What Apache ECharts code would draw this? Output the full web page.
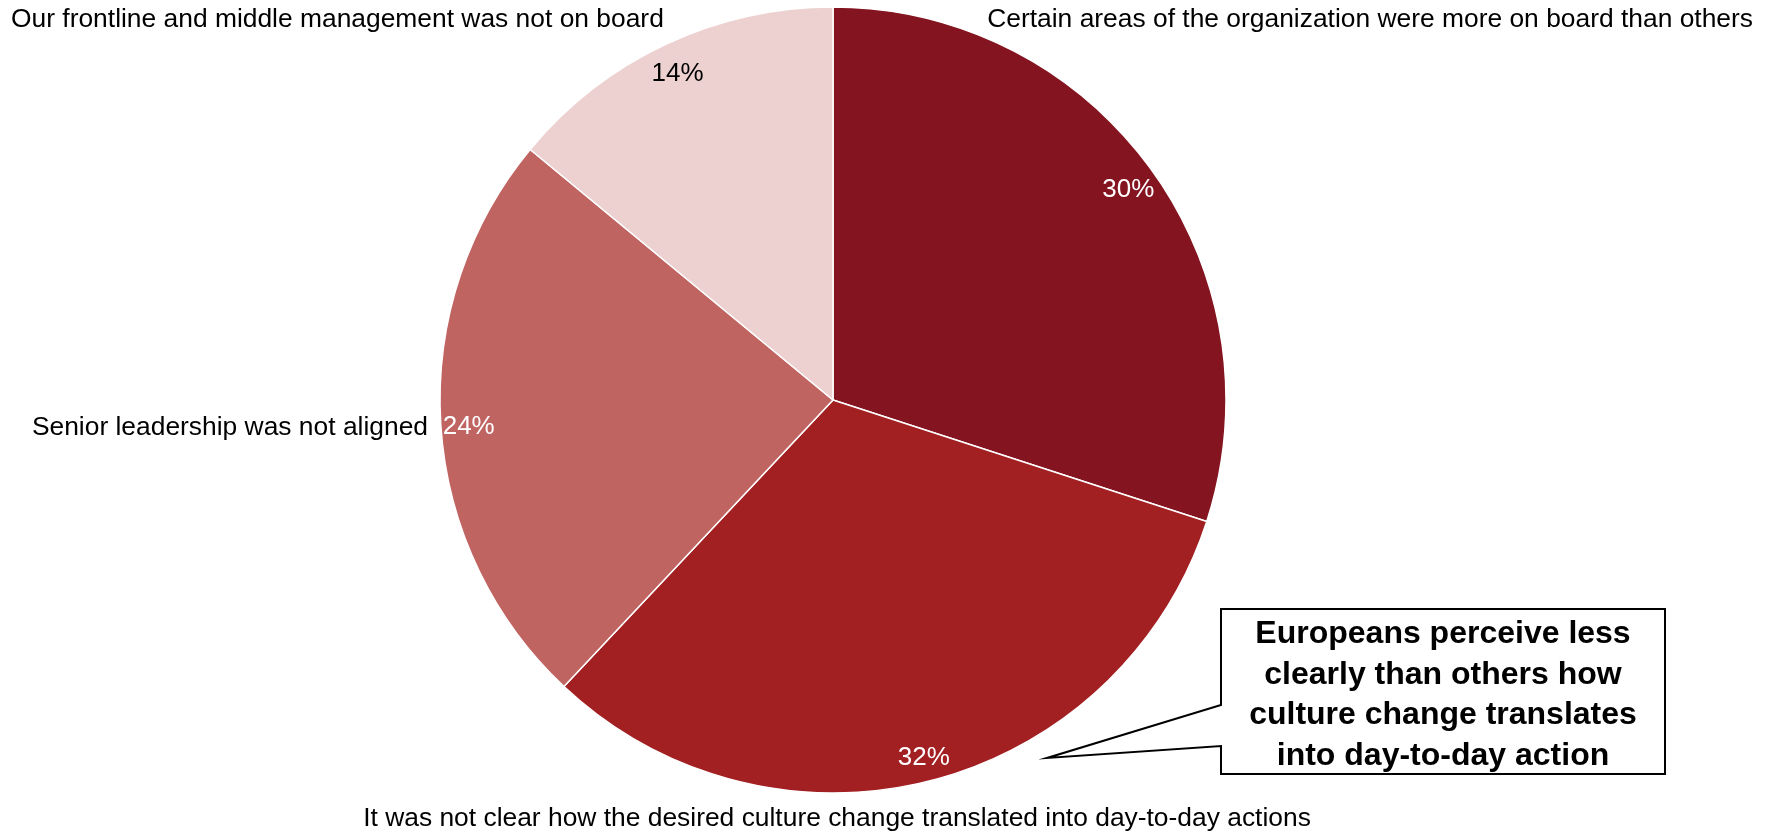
<!DOCTYPE html>
<html>
<head>
<meta charset="utf-8">
<script src="https://cdn.jsdelivr.net/npm/echarts@6/dist/echarts.min.js"></script>
<style>
  html, body { margin: 0; padding: 0; background: #ffffff; }
  #chart { width: 1777px; height: 833px; }
</style>
</head>
<body>
<div id="chart"></div>
<script>
// Reasons a culture change stalled (share of respondents), clockwise from 12 o'clock
const categories = [
  'Certain areas of the organization were more on board than others',
  'It was not clear how the desired culture change translated into day-to-day actions',
  'Senior leadership was not aligned',
  'Our frontline and middle management was not on board'
];
const shares = [30, 32, 24, 14];
const sliceColors = ['#84141f', '#a21f22', '#c06462', '#edd1d1'];
const percentColors = ['#ffffff', '#ffffff', '#ffffff', '#000000'];
const calloutLines = [
  'Europeans perceive less',
  'clearly than others how',
  'culture change translates',
  'into day-to-day action'
];

const FONT = '"Liberation Sans", Arial, sans-serif';
const CX = 833, CY = 400, R = 393;

// Where each category caption sits around the pie: [x, y, align]
const captionAnchors = [
  [1753, 20, 'right'],
  [837, 819, 'center'],
  [428, 428, 'right'],
  [11, 20, 'left']
];

const pieData = categories.map((name, i) => ({
  name: name,
  value: shares[i],
  itemStyle: { color: sliceColors[i] }
}));

const ringData = categories.map((name, i) => ({
  name: name,
  value: shares[i],
  label: { color: percentColors[i] }
}));

const chart = echarts.init(document.getElementById('chart'), null, { renderer: 'canvas' });

chart.setOption({
  animation: false,
  backgroundColor: '#ffffff',
  series: [
    {
      type: 'pie',
      center: [CX, CY],
      radius: [0, R],
      startAngle: 90,
      clockwise: true,
      avoidLabelOverlap: false,
      silent: true,
      itemStyle: { borderColor: '#ffffff', borderWidth: 1.5 },
      label: {
        show: true,
        position: 'outside',
        formatter: '{b}',
        color: '#000000',
        fontFamily: FONT,
        fontSize: 26.4
      },
      labelLine: { show: false },
      labelLayout: function (params) {
        const a = captionAnchors[params.dataIndex];
        return { x: a[0], y: a[1], align: a[2], verticalAlign: 'middle' };
      },
      data: pieData
    },
    {
      // thin outer ring that carries the percentage labels near the rim
      type: 'pie',
      center: [CX, CY],
      radius: [R - 62, R],
      startAngle: 90,
      clockwise: true,
      silent: true,
      avoidLabelOverlap: false,
      itemStyle: { color: 'rgba(0,0,0,0)', borderWidth: 0 },
      label: {
        show: true,
        position: 'inside',
        formatter: '{c}%',
        fontFamily: FONT,
        fontSize: 26,
        offset: [0, 4]
      },
      labelLine: { show: false },
      data: ringData
    }
  ],
  graphic: [
    {
      type: 'polygon',
      shape: {
        points: [
          [1221, 609], [1665, 609], [1665, 774], [1221, 774],
          [1221, 746], [1047, 758], [1221, 705]
        ]
      },
      style: { fill: '#ffffff', stroke: '#000000', lineWidth: 2 },
      z: 10
    },
    {
      type: 'text',
      x: 1443,
      y: 695,
      style: {
        text: calloutLines.join('\n'),
        fill: '#000000',
        font: 'bold 32px ' + FONT,
        lineHeight: 40.5,
        align: 'center',
        verticalAlign: 'middle'
      },
      z: 11
    }
  ]
});
</script>
</body>
</html>
